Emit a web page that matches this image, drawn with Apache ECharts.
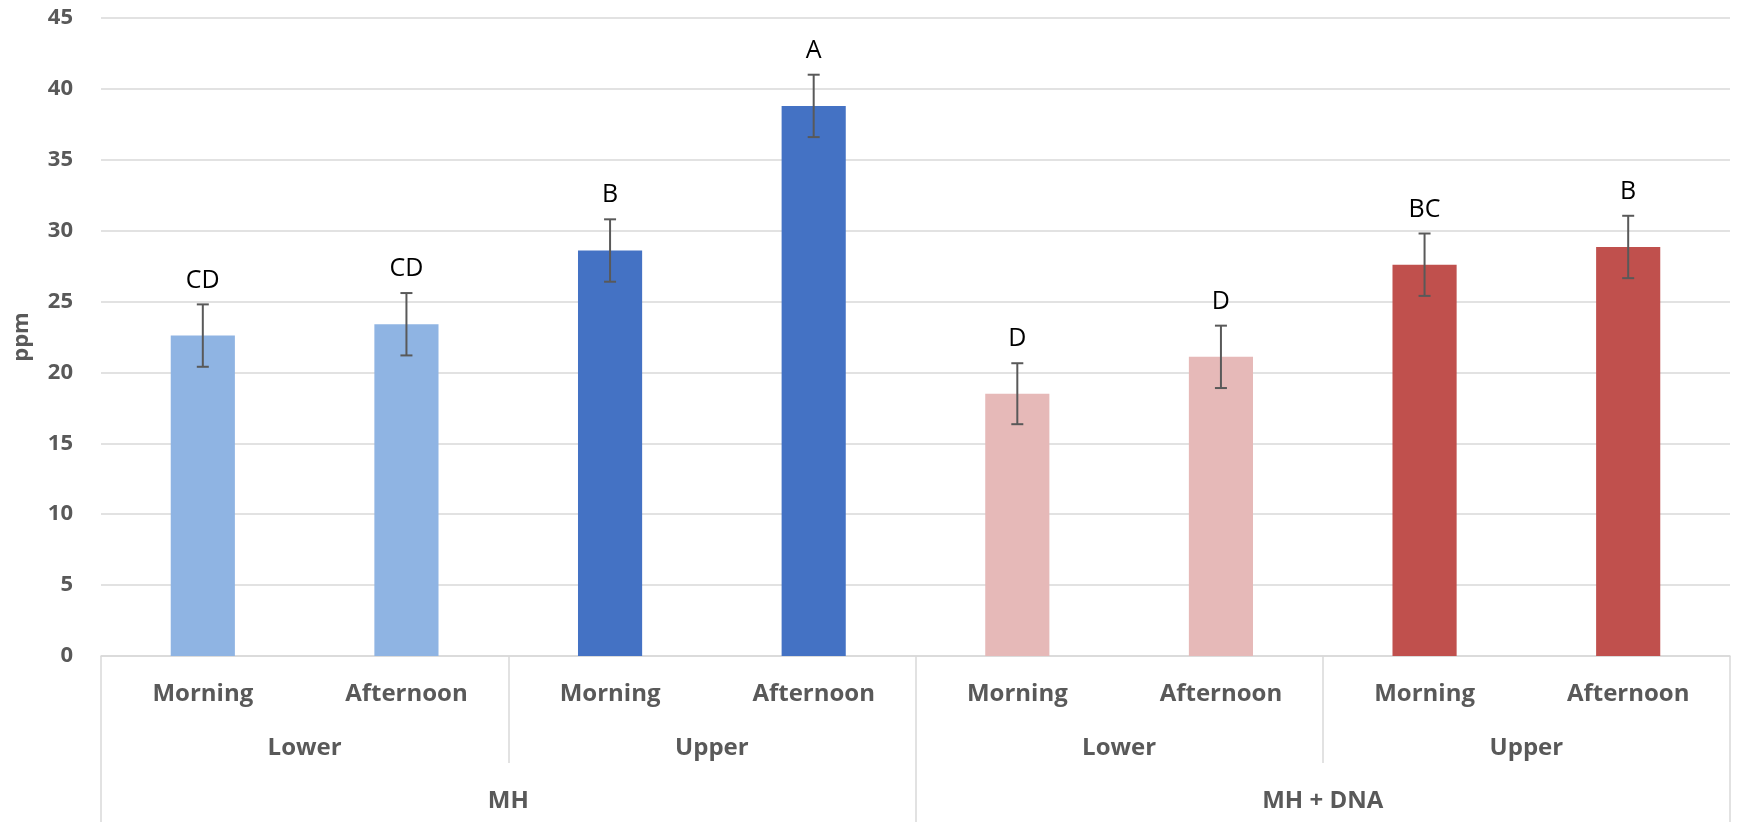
<!DOCTYPE html>
<html>
<head>
<meta charset="utf-8">
<title>ppm by treatment, position and time of day</title>
<script src="https://cdn.jsdelivr.net/npm/echarts@6/dist/echarts.min.js"></script>
<style>
  html, body { margin: 0; padding: 0; background: #ffffff; }
  #chart { width: 1739px; height: 822px; }
</style>
</head>
<body>
<div id="chart"></div>
<script>
// Innermost category level (one bar each)
const timeOfDay = ['Morning', 'Afternoon', 'Morning', 'Afternoon', 'Morning', 'Afternoon', 'Morning', 'Afternoon'];
// Middle level: position
const positions = ['Lower', 'Upper', 'Lower', 'Upper'];
// Outer level: treatment
const treatments = ['MH', 'MH + DNA'];

// Mean ppm per bar and the half-length of its error bar
const meanPpm = [22.6, 23.4, 28.6, 38.8, 18.5, 21.1, 27.6, 28.85];
const errorPpm = [2.2, 2.2, 2.2, 2.2, 2.15, 2.2, 2.2, 2.2];
// Significance letters printed above each error bar
const groupLetters = ['CD', 'CD', 'B', 'A', 'D', 'D', 'BC', 'B'];

// Y-axis range and step
const yMin = 0;
const yMax = 45;
const yStep = 5;

const barColors = ['#8FB4E3', '#8FB4E3', '#4472C4', '#4472C4', '#E6B9B8', '#E6B9B8', '#C0504D', '#C0504D'];

const gridColor = '#D9D9D9';
const labelColor = '#595959';
const fontFamily = "'Open Sans', 'DejaVu Sans', sans-serif";

const errorData = meanPpm.map((m, i) => [i, m, m + errorPpm[i], m - errorPpm[i]]);

const chart = echarts.init(document.getElementById('chart'), null, { renderer: 'canvas' });

chart.setOption({
  animation: false,
  backgroundColor: '#ffffff',
  textStyle: { fontFamily: fontFamily },
  grid: { left: 101, right: 9, top: 18, bottom: 166, containLabel: false },
  xAxis: [
    {
      type: 'category',
      data: timeOfDay,
      position: 'bottom',
      axisLine: { show: true, lineStyle: { color: gridColor, width: 1.5 } },
      axisTick: { show: false },
      axisLabel: {
        interval: 0, margin: 26,
        color: labelColor, fontSize: 24, fontWeight: 'bold', fontFamily: fontFamily
      },
      splitLine: { show: false }
    },
    {
      type: 'category',
      data: positions,
      position: 'bottom',
      axisLine: { show: false },
      axisTick: { show: true, interval: 0, length: 107, lineStyle: { color: gridColor, width: 1.5 } },
      axisLabel: {
        interval: 0, margin: 80,
        color: labelColor, fontSize: 24, fontWeight: 'bold', fontFamily: fontFamily
      },
      splitLine: { show: false }
    },
    {
      type: 'category',
      data: treatments,
      position: 'bottom',
      axisLine: { show: false },
      axisTick: { show: true, interval: 0, length: 166, lineStyle: { color: gridColor, width: 1.5 } },
      axisLabel: {
        interval: 0, margin: 133,
        color: labelColor, fontSize: 24, fontWeight: 'bold', fontFamily: fontFamily
      },
      splitLine: { show: false }
    }
  ],
  yAxis: {
    type: 'value',
    min: yMin,
    max: yMax,
    interval: yStep,
    name: 'ppm',
    nameLocation: 'middle',
    nameRotate: 90,
    nameGap: 68,
    nameTextStyle: { color: labelColor, fontSize: 22, fontWeight: 'bold', fontFamily: fontFamily },
    axisLine: { show: false },
    axisTick: { show: false },
    axisLabel: { margin: 28, color: labelColor, fontSize: 22, fontWeight: 'bold', fontFamily: fontFamily },
    splitLine: { show: true, lineStyle: { color: gridColor, width: 1.5 } }
  },
  series: [
    {
      type: 'bar',
      xAxisIndex: 0,
      data: meanPpm,
      barWidth: '31.5%',
      itemStyle: { color: (p) => barColors[p.dataIndex] },
      z: 2
    },
    {
      // error bars with the group letter above each one
      type: 'custom',
      xAxisIndex: 0,
      data: errorData,
      z: 3,
      renderItem: function (params, api) {
        const idx = api.value(0);
        const hi = api.coord([idx, api.value(2)]);
        const lo = api.coord([idx, api.value(3)]);
        const cap = 6;
        const stroke = { stroke: '#595959', lineWidth: 2 };
        return {
          type: 'group',
          children: [
            { type: 'line', shape: { x1: hi[0], y1: hi[1], x2: lo[0], y2: lo[1] }, style: stroke },
            { type: 'line', shape: { x1: hi[0] - cap, y1: hi[1], x2: hi[0] + cap, y2: hi[1] }, style: stroke },
            { type: 'line', shape: { x1: lo[0] - cap, y1: lo[1], x2: lo[0] + cap, y2: lo[1] }, style: stroke },
            {
              type: 'text',
              style: {
                text: groupLetters[idx],
                x: hi[0],
                y: hi[1] - 24,
                align: 'center',
                verticalAlign: 'middle',
                fill: '#000000',
                fontSize: 25,
                fontFamily: fontFamily
              }
            }
          ]
        };
      }
    }
  ]
});
</script>
</body>
</html>
